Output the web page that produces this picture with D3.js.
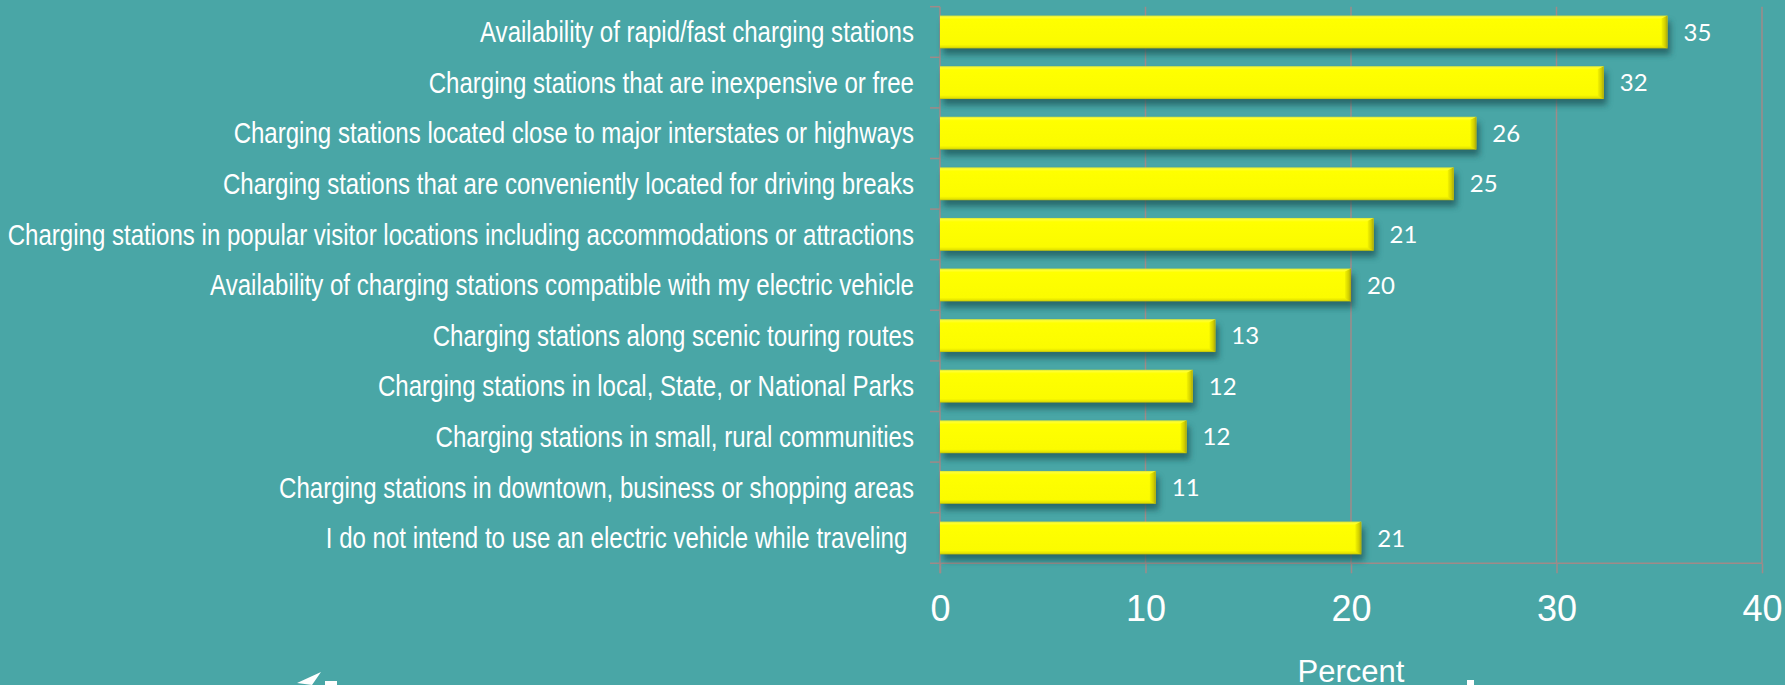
<!DOCTYPE html>
<html>
<head>
<meta charset="utf-8">
<script src="https://cdn.jsdelivr.net/npm/d3@7"></script>
<style>
  body { margin: 0; background: #49a6a6; overflow: hidden; }
  .cat_label { font-family: "Liberation Sans", Arial, sans-serif; font-size: 29px; fill: #ffffff; white-space: pre; }
  .val_label { font-family: Lato, "Open Sans", sans-serif; font-size: 24px; fill: #ffffff; }
  .x_axis text { font-family: "Liberation Sans", Arial, sans-serif; font-size: 36px; fill: #ffffff; }
  .axis_title { font-family: "Liberation Sans", Arial, sans-serif; font-size: 31px; fill: #ffffff; }
</style>
</head>
<body>
<div class="chart"></div>
<script>
// categories top to bottom
const categories = [
    "Availability of rapid/fast charging stations",
    "Charging stations that are inexpensive or free",
    "Charging stations located close to major interstates or highways",
    "Charging stations that are conveniently located for driving breaks",
    "Charging stations in popular visitor locations including accommodations or attractions",
    "Availability of charging stations compatible with my electric vehicle",
    "Charging stations along scenic touring routes",
    "Charging stations in local, State, or National Parks",
    "Charging stations in small, rural communities",
    "Charging stations in downtown, business or shopping areas",
    "I do not intend to use an electric vehicle while traveling "
]

// percent values (bar lengths, labels are rounded)
const percents = [35.4, 32.3, 26.1, 25.0, 21.1, 20.0, 13.4, 12.3, 12.0, 10.5, 20.5]

const xTicks = [0, 10, 20, 30, 40]
const axisTitle = "Percent"

const data = categories.map((c, i) => ({ category: c, value: percents[i] }))

function drawChart() {

    let dimensions = {
        width: 1785,
        height: 685,
        plotLeft: 940,
        plotRight: 1762,
        plotTop: 6.7,
        plotBottom: 563.3,
    }

    const gridColor = "#a08a88"

    const wrapper = d3.select(".chart")
        .append("svg")
        .attr("width", dimensions.width)
        .attr("height", dimensions.height)

    wrapper.append("rect")
        .attr("width", dimensions.width)
        .attr("height", dimensions.height)
        .attr("fill", "#49a6a6")

    const defs = wrapper.append("defs")

    const barGrad = defs.append("linearGradient")
        .attr("id", "barGrad")
        .attr("x1", 0).attr("x2", 0).attr("y1", 0).attr("y2", 1)
    barGrad.append("stop").attr("offset", "0%").attr("stop-color", "#d6e43a")
    barGrad.append("stop").attr("offset", "5%").attr("stop-color", "#ffff30")
    barGrad.append("stop").attr("offset", "12%").attr("stop-color", "#ffff00")
    barGrad.append("stop").attr("offset", "88%").attr("stop-color", "#fbfb00")
    barGrad.append("stop").attr("offset", "96%").attr("stop-color", "#e4e400")
    barGrad.append("stop").attr("offset", "100%").attr("stop-color", "#b9ba10")

    const endGrad = defs.append("linearGradient")
        .attr("id", "endGrad")
        .attr("x1", 0).attr("x2", 1).attr("y1", 0).attr("y2", 0)
    endGrad.append("stop").attr("offset", "0%").attr("stop-color", "#f4f400")
    endGrad.append("stop").attr("offset", "60%").attr("stop-color", "#d2d000")
    endGrad.append("stop").attr("offset", "100%").attr("stop-color", "#a8a610")

    const blur = defs.append("filter")
        .attr("id", "shadow")
        .attr("x", "-10%").attr("y", "-50%")
        .attr("width", "120%").attr("height", "200%")
    blur.append("feGaussianBlur").attr("stdDeviation", 3)

    const xScale = d3.scaleLinear()
        .domain([0, 40])
        .range([dimensions.plotLeft, dimensions.plotRight])

    const yScale = d3.scaleBand()
        .domain(categories)
        .range([dimensions.plotTop, dimensions.plotBottom])
        .paddingInner(0.35)
        .paddingOuter(0.175)

    const step = yScale.step()
    const bandTop = d => yScale(d) - step * 0.175

    // vertical gridlines
    wrapper.append("g")
        .selectAll("line")
        .data(xTicks.slice(1))
        .join("line")
        .attr("x1", d => xScale(d))
        .attr("x2", d => xScale(d))
        .attr("y1", dimensions.plotTop)
        .attr("y2", dimensions.plotBottom)
        .attr("stroke", gridColor)
        .attr("stroke-width", 1.5)

    // x axis
    const xAxis = d3.axisBottom(xScale)
        .tickValues(xTicks)
        .tickSize(10)
        .tickSizeOuter(0)
        .tickPadding(22)

    const xAxisGroup = wrapper.append("g")
        .attr("class", "x_axis")
        .attr("transform", `translate(0, ${dimensions.plotBottom})`)
        .call(xAxis)

    xAxisGroup.select(".domain").remove()
    xAxisGroup.selectAll("line").attr("stroke", gridColor).attr("stroke-width", 1.5)
    xAxisGroup.selectAll("text").attr("fill", "#ffffff")

    // bottom axis line, extends under the left ticks
    wrapper.append("line")
        .attr("x1", dimensions.plotLeft - 10)
        .attr("x2", dimensions.plotRight)
        .attr("y1", dimensions.plotBottom)
        .attr("y2", dimensions.plotBottom)
        .attr("stroke", gridColor)
        .attr("stroke-width", 1.5)

    // left axis line and category boundary ticks
    wrapper.append("line")
        .attr("x1", dimensions.plotLeft)
        .attr("x2", dimensions.plotLeft)
        .attr("y1", dimensions.plotTop)
        .attr("y2", dimensions.plotBottom + 10)
        .attr("stroke", gridColor)
        .attr("stroke-width", 1.5)

    wrapper.append("g")
        .selectAll("line")
        .data(categories)
        .join("line")
        .attr("x1", dimensions.plotLeft - 10)
        .attr("x2", dimensions.plotLeft)
        .attr("y1", d => bandTop(d))
        .attr("y2", d => bandTop(d))
        .attr("stroke", gridColor)
        .attr("stroke-width", 1.5)

    // shadows
    wrapper.append("g")
        .selectAll("rect")
        .data(data)
        .join("rect")
        .attr("x", xScale(0) + 3)
        .attr("y", d => yScale(d.category) + 6)
        .attr("width", d => xScale(d.value) - xScale(0))
        .attr("height", yScale.bandwidth())
        .attr("fill", "#1f5558")
        .attr("opacity", 0.75)
        .attr("filter", "url(#shadow)")

    // bars
    const bars = wrapper.append("g")
        .selectAll("g")
        .data(data)
        .join("g")

    bars.append("rect")
        .attr("x", xScale(0))
        .attr("y", d => yScale(d.category))
        .attr("width", d => xScale(d.value) - xScale(0))
        .attr("height", yScale.bandwidth())
        .attr("fill", "url(#barGrad)")

    bars.append("path")
        .attr("d", d => {
            const x1 = xScale(d.value), y0 = yScale(d.category), h = yScale.bandwidth()
            return `M${x1 - 6},${y0 + 3} L${x1},${y0} L${x1},${y0 + h} L${x1 - 6},${y0 + h - 3} Z`
        })
        .attr("fill", "url(#endGrad)")

    // value labels
    wrapper.append("g")
        .selectAll("text")
        .data(data)
        .join("text")
        .attr("class", "val_label")
        .attr("x", d => xScale(d.value) + 16)
        .attr("y", d => yScale(d.category) + yScale.bandwidth() / 2)
        .attr("dy", "0.36em")
        .text(d => Math.round(d.value))

    // category labels, condensed like a narrow face
    wrapper.append("g")
        .selectAll("text")
        .data(categories)
        .join("text")
        .attr("class", "cat_label")
        .attr("transform", d => `translate(914, ${yScale(d) + yScale.bandwidth() / 2}) scale(0.83, 1)`)
        .attr("dy", "0.35em")
        .attr("text-anchor", "end")
        .text(d => d)

    // axis title
    wrapper.append("text")
        .attr("class", "axis_title")
        .attr("x", (dimensions.plotLeft + dimensions.plotRight) / 2)
        .attr("y", 682)
        .attr("text-anchor", "middle")
        .text(axisTitle)

    // cropped slide decorations at the bottom edge
    wrapper.append("path")
        .attr("d", "M297,683 L321,672 L312,685 Z M325,681 L337,681 L337,685 L325,685 Z")
        .attr("fill", "#ffffff")
    wrapper.append("path")
        .attr("d", "M1467,680 L1474,680 L1474,685 L1467,685 Z")
        .attr("fill", "#ffffff")
}

drawChart()
</script>
</body>
</html>
